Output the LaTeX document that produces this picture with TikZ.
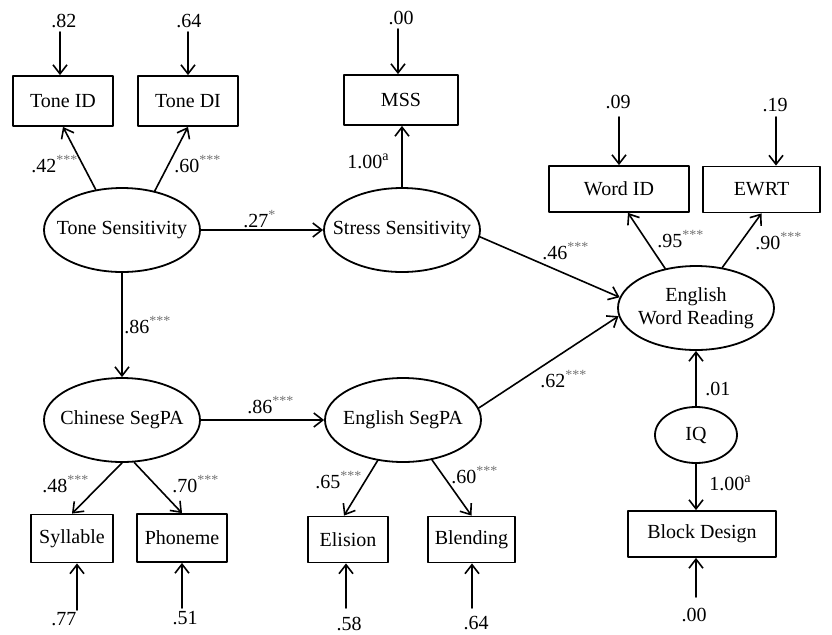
\documentclass[tikz,border=0pt]{standalone}
\usepackage{fontspec}
\setmainfont{Liberation Serif}
\usetikzlibrary{arrows.meta,shapes.geometric}
\newcommand{\zw}[1]{\makebox[0pt]{#1}}
\newcommand{\sig}[1]{\textsuperscript{\color{black!55}#1}}

\begin{document}
\begin{tikzpicture}[x=0.5pt,y=-0.5pt,line cap=round,line join=round,
  font=\fontsize{10}{11.5}\selectfont,
  obs/.style={draw,rectangle,line width=.9pt,inner sep=2pt,minimum height=24pt},
  latent/.style={draw,ellipse,line width=.9pt,inner sep=0pt,minimum width=78pt,minimum height=42pt},
  arr/.style={-{Straight Barb[length=4.5pt,width=7pt]},line width=.8pt},
  coef/.style={anchor=base west,inner sep=0pt},
  err/.style={inner sep=0pt}]
\path[use as bounding box] (0,0) rectangle (832,634);
% observed measures
\node[obs,minimum width=50pt,minimum height=25pt] (tid) at (63,101) {Tone ID};
\node[obs,minimum width=50pt,minimum height=25pt] (tdi) at (188,101) {Tone DI};
\node[obs,minimum width=57pt,minimum height=25pt] (mss) at (401,100) {MSS};
\node[obs,minimum width=70pt,minimum height=23pt] (wid) at (619,189) {Word ID};
\node[obs,minimum width=58.5pt,minimum height=23pt] (ewrt) at (761.5,189.5) {EWRT};
\node[obs,minimum width=41pt] (syl) at (72,538.5) {Syllable};
\node[obs,minimum width=45pt] (pho) at (182,538) {Phoneme};
\node[obs,minimum width=40pt,minimum height=23pt] (eli) at (348,539.5) {Elision};
\node[obs,minimum width=43.5pt,minimum height=23pt] (ble) at (471.5,539.5) {Blending};
\node[obs,minimum width=74pt,minimum height=23pt] (bd) at (702,534) {Block Design};
% latent variables
\node[latent] (ts) at (122,230) {\zw{Tone Sensitivity}};
\node[latent] (ss) at (402,230) {\zw{Stress Sensitivity}};
\node[latent] (ewr) at (696,308) {\zw{\begin{tabular}{@{}c@{}}English\\Word Reading\end{tabular}}};
\node[latent] (csp) at (122,420) {\zw{Chinese SegPA}};
\node[latent] (esp) at (403,420) {\zw{English SegPA}};
\node[latent,minimum width=41pt,minimum height=28pt] (iq) at (696,435) {\zw{IQ}};
% error terms
\foreach \lx/\ly/\ax/\ay/\val/\tgt in {64/21/60/32/.82/tid,189/21/188/32/.64/tdi,
    401/18/398/29/.00/mss,618/102/619/117/.09/wid,775/105/776/117/.19/ewrt} {
  \node[err] (e\tgt) at (\lx,\ly) {\val};
  \coordinate (u\tgt) at (\ax,\ay);
  \draw[arr] (u\tgt) -- (u\tgt |- \tgt.north);
}
\foreach \lx/\ly/\ax/\ay/\val/\tgt in {64/619/77/610/.77/syl,185/618/182/608/.51/pho,
    349/624/346/608/.58/eli,476/623/472/608/.64/ble,694/615/696/597/.00/bd} {
  \node[err] (e\tgt) at (\lx,\ly) {\val};
  \coordinate (u\tgt) at (\ax,\ay);
  \draw[arr] (u\tgt) -- (u\tgt |- \tgt.south);
}
% paths
\draw[arr] (ts.123) -- (tid.south);
\draw[arr] (ts.50) -- (tdi.south);
\draw[arr] (ts.east) -- (ss.west);
\draw[arr] (ss.north) -- (ss.north |- mss.south);
\draw[arr] (ss.-5) -- (ewr.172);
\draw[arr] (ts.south) -- (csp.north);
\draw[arr] (csp.east) -- (esp.west);
\draw[arr] (esp.9) -- (ewr.186);
\draw[arr] (ewr.128) -- ([xshift=4.5pt]wid.south);
\draw[arr] (ewr.57) -- (ewrt.south);
\draw[arr] (iq.north) -- (ewr.south);
\draw[arr] (iq.south) -- (iq.south |- bd.north);
\draw[arr] (csp.south) -- (syl.north);
\draw[arr] (csp.-74) -- (pho.north);
\draw[arr] (esp.-122) -- ([xshift=-2pt]eli.north);
\draw[arr] (esp.-54) -- (ble.north);
% coefficients
\node[coef] (c1) at (31,172) {.42\sig{***}};
\node[coef] (c2) at (174,172) {.60\sig{***}};
\node[coef] (c3) at (243,227) {.27\sig{*}};
\node[coef] (c4) at (347,168) {1.00\textsuperscript{a}};
\node[coef] (c5) at (124,333) {.86\sig{***}};
\node[coef] (c6) at (247,413) {.86\sig{***}};
\node[coef] (c7) at (42,492) {.48\sig{***}};
\node[coef] (c8) at (172,492) {.70\sig{***}};
\node[coef] (c9) at (315,488) {.65\sig{***}};
\node[coef] (c10) at (451,483) {.60\sig{***}};
\node[coef] (c11) at (540,387) {.62\sig{***}};
\node[coef] (c12) at (705,395) {.01};
\node[coef] (c13) at (709,490) {1.00\textsuperscript{a}};
\node[coef] (c14) at (542,259) {.46\sig{***}};
\node[coef] (c15) at (657,247) {.95\sig{***}};
\node[coef] (c16) at (755,249) {.90\sig{***}};
\end{tikzpicture}
\end{document}
